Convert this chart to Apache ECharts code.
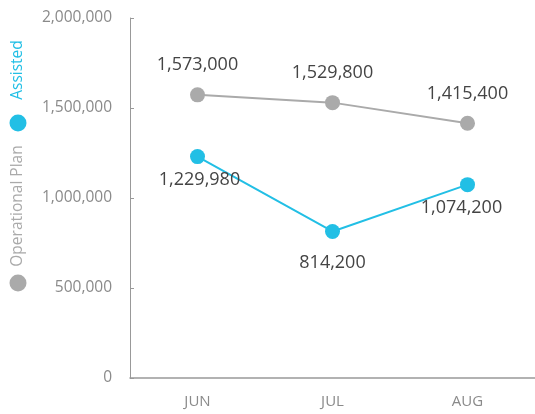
<!DOCTYPE html>
<html><head><meta charset="utf-8">
<script src="https://cdn.jsdelivr.net/npm/echarts@6/dist/echarts.min.js"></script>
<style>html,body{margin:0;padding:0;background:#fff}#c{width:535px;height:414px}</style>
</head><body><div id="c"></div>
<script>
const categories = ['JUN', 'JUL', 'AUG'];
const operationalPlan = [1573000, 1529800, 1415400];
const assisted = [1229980, 814200, 1074200];
const yTicks = [0, 500000, 1000000, 1500000, 2000000];

const fmt = v => v.toLocaleString('en-US');
const font = '"Open Sans", sans-serif';
const blue = '#22bfe5', gray = '#aaaaaa';
const opDist = [13, 13, 13];
const asDist = [7, 15, 7];
const asOffset = [[2, 0], [0, 0], [-6, 0]];

const chart = echarts.init(document.getElementById('c'));
chart.setOption({
  animation: false,
  grid: { left: 130, right: 0, top: 18, bottom: 36 },
  legend: { show: false },
  xAxis: {
    type: 'category', data: categories, boundaryGap: true,
    axisLine: { lineStyle: { color: '#999', width: 1.5 } },
    axisTick: { inside: true, length: 5, lineStyle: { color: '#999' } },
    axisLabel: { color: '#8a8a8a', fontFamily: font, fontSize: 15, margin: 16 },
    splitLine: { show: false }
  },
  yAxis: {
    type: 'value', min: yTicks[0], max: yTicks[yTicks.length - 1], interval: 500000,
    axisLine: { show: true, lineStyle: { color: '#999', width: 1 } },
    axisTick: { show: true, inside: true, length: 4, lineStyle: { color: '#999' } },
    axisLabel: { color: '#8a8a8a', fontFamily: font, fontSize: 15.5, margin: 18, formatter: v => fmt(v) },
    splitLine: { show: false }
  },
  series: [
    {
      name: 'Operational Plan', type: 'line',
      data: operationalPlan.map((v, i) => ({ value: v, label: { distance: opDist[i] } })),
      symbol: 'circle', symbolSize: 15,
      itemStyle: { color: gray }, lineStyle: { color: gray, width: 2 },
      label: { show: true, position: 'top', color: '#444', fontFamily: font, fontSize: 18, formatter: p => fmt(p.value) }
    },
    {
      name: 'Assisted', type: 'line',
      data: assisted.map((v, i) => ({ value: v, label: { distance: asDist[i], offset: asOffset[i] } })),
      symbol: 'circle', symbolSize: 15,
      itemStyle: { color: blue }, lineStyle: { color: blue, width: 2 },
      label: { show: true, position: 'bottom', color: '#444', fontFamily: font, fontSize: 18, formatter: p => fmt(p.value) }
    }
  ],
  graphic: [
    { type: 'circle', shape: { cx: 18, cy: 123, r: 8.5 }, style: { fill: blue } },
    { type: 'text', x: 18, y: 70, rotation: Math.PI / 2,
      style: { text: 'Assisted', fill: blue, font: '15.5px ' + font, align: 'center', verticalAlign: 'middle' } },
    { type: 'circle', shape: { cx: 18, cy: 283, r: 8.5 }, style: { fill: gray } },
    { type: 'text', x: 18, y: 206, rotation: Math.PI / 2,
      style: { text: 'Operational Plan', fill: gray, font: '15.5px ' + font, align: 'center', verticalAlign: 'middle' } }
  ]
});
</script></body></html>
